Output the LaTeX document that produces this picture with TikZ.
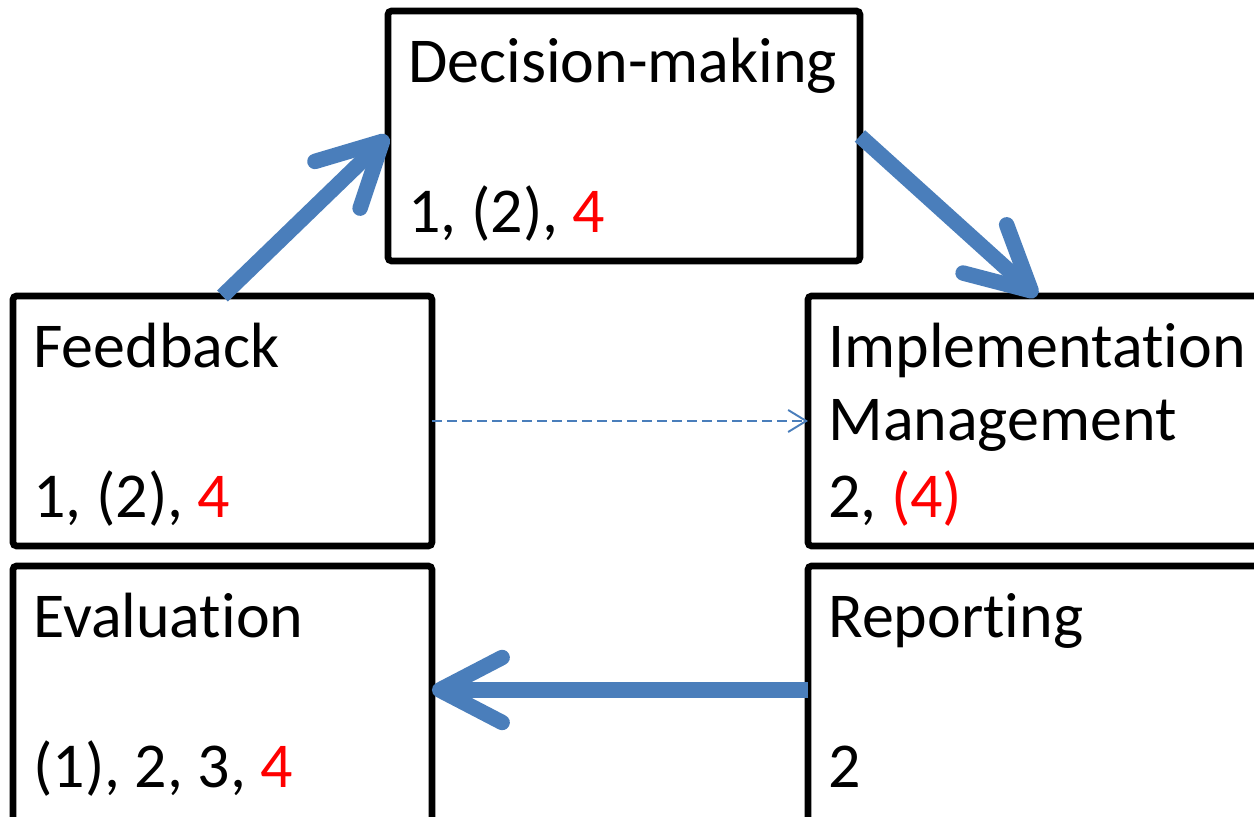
\documentclass[tikz,border=0pt]{standalone}
\usepackage{fontspec}
\setmainfont{Carlito}[Ligatures=NoCommon]
\usetikzlibrary{arrows.meta}
\definecolor{FlowBlue}{HTML}{4A7EBB}
\definecolor{MarkRed}{HTML}{FF0000}

\begin{document}
\begin{tikzpicture}[
    x=0.02cm, y=-0.02cm,
    box/.style={draw=black, line width=3.8pt, rounded corners=2pt, anchor=north west, inner sep=0pt, outer sep=0pt, minimum height=5cm},
    txt/.style={anchor=base west, inner sep=0pt, font=\fontsize{36.4}{44}\selectfont},
    flow/.style={draw=FlowBlue, line width=8.8pt, -{Straight Barb[round, length=1.25cm, width=1.3cm]}},
    hint/.style={draw=FlowBlue, line width=1.1pt, dash pattern=on 0.2cm off 0.1cm, -{Straight Barb[length=0.36cm, width=0.44cm]}}
  ]
    \useasboundingbox (0,0) rectangle (1254,816);
    \clip (0,0) rectangle (1254,816);

    % Stage boxes
    \node[box, minimum width=9.44cm] (dec) at (388,11) {};
    \node[box, minimum width=8.38cm] (fb) at (13,296) {};
    \node[box, minimum width=9.16cm] (impl) at (808,296) {};
    \node[box, minimum width=8.38cm, minimum height=5.3cm] (eval) at (13,566) {};
    \node[box, minimum width=9.16cm, minimum height=5.3cm] (rep) at (808,566) {};

    % Titles and numbers
    \node[txt] (dec-title) at ([shift={(20,71)}]dec.north west) {Decision-making};
    \node[txt] (dec-nums) at ([shift={(20,221)}]dec.north west) {1, (2), \textcolor{MarkRed}{4}};
    \node[txt] (fb-title) at ([shift={(20,71)}]fb.north west) {Feedback};
    \node[txt] (fb-nums) at ([shift={(20,221)}]fb.north west) {1, (2), \textcolor{MarkRed}{4}};
    \node[txt] (impl-title) at ([shift={(20,71)}]impl.north west) {Implementation};
    \node[txt] (impl-sub) at ([shift={(20,144)}]impl.north west) {Management};
    \node[txt] (impl-nums) at ([shift={(20,221)}]impl.north west) {2, \textcolor{MarkRed}{(4)}};
    \node[txt] (eval-title) at ([shift={(20,71)}]eval.north west) {Evaluation};
    \node[txt] (eval-nums) at ([shift={(20,221)}]eval.north west) {(1), 2, 3, \textcolor{MarkRed}{4}};
    \node[txt] (rep-title) at ([shift={(20,71)}]rep.north west) {Reporting};
    \node[txt] (rep-nums) at ([shift={(20,221)}]rep.north west) {2};

    % Cycle arrows
    \draw[flow] (fb.north) -- (dec.west);
    \draw[flow] (dec.east) -- (impl.north);
    \draw[flow] ([yshift=0.17cm]rep.west) -- ([yshift=0.17cm]eval.east);
    \draw[hint] (fb.east) -- (impl.west);
\end{tikzpicture}
\end{document}
